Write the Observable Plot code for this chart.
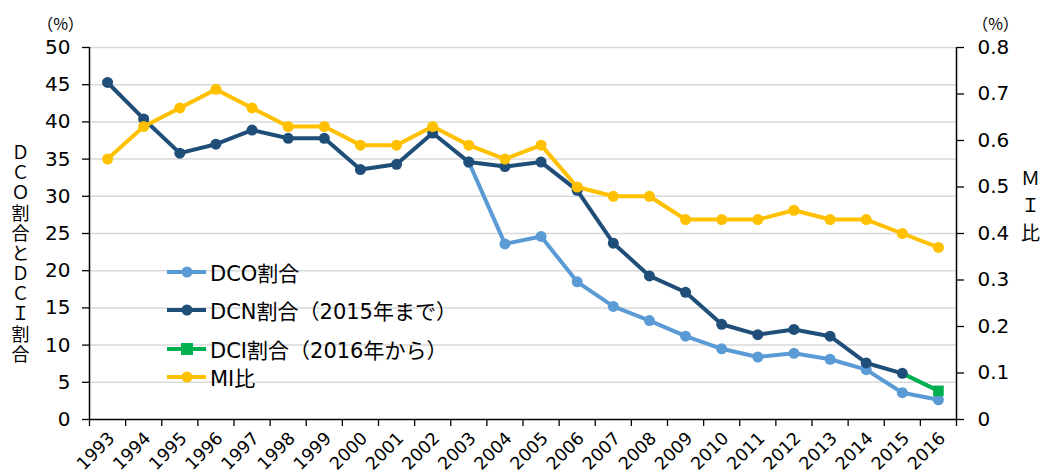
<!DOCTYPE html>
<html>
<head>
<meta charset="utf-8">
<script src="https://cdn.jsdelivr.net/npm/d3@7"></script>
<script src="https://cdn.jsdelivr.net/npm/@observablehq/plot@0.6"></script>
<style>
  html, body { margin: 0; padding: 0; background: #fff; }
  #wrap { position: relative; width: 1046px; height: 472px; }
  #legend { position: absolute; left: 166px; top: 258px; font-family: 'DejaVu Sans', 'Noto Sans CJK JP', sans-serif; font-size: 21px; color: #000; }
  #legend .item { position: absolute; left: 0; white-space: nowrap; display: flex; align-items: center; height: 28px; }
  #legend svg { display: block; }
</style>
</head>
<body>
<div id="wrap"><div id="legend"></div></div>
<script>
// ---- data ----
const years = [1993,1994,1995,1996,1997,1998,1999,2000,2001,2002,2003,2004,2005,2006,2007,2008,2009,2010,2011,2012,2013,2014,2015,2016];
// DCN割合 (%) 1993-2015
const dcnYears = years.slice(0, 23);
const dcnValues = [45.3,40.4,35.8,37.0,38.9,37.8,37.8,33.6,34.3,38.5,34.6,34.0,34.6,30.8,23.7,19.3,17.1,12.8,11.4,12.1,11.2,7.6,6.2];
// DCO割合 (%) 2003-2016 (coincides with DCN before)
const dcoYears = years.slice(10);
const dcoValues = [34.6,23.6,24.6,18.5,15.2,13.3,11.2,9.5,8.4,8.9,8.1,6.7,3.6,2.65];
// DCI割合 (%) 2016 (line joined from DCN 2015)
const dciYears = [2015, 2016];
const dciValues = [6.2, 3.85];
// MI比 (right axis)
const miValues = [0.56,0.63,0.67,0.71,0.67,0.63,0.63,0.59,0.59,0.63,0.59,0.56,0.59,0.50,0.48,0.48,0.43,0.43,0.43,0.45,0.43,0.43,0.40,0.37];
// ticks
const leftTicks = [0,5,10,15,20,25,30,35,40,45,50];
const rightTicks = [0,0.1,0.2,0.3,0.4,0.5,0.6,0.7,0.8];
const leftTitle = "ＤＣＯ割合とＤＣＩ割合";
const rightTitle = "ＭＩ比";
const unitLabel = "（%）";
const seriesNames = ["DCO割合", "DCN割合（2015年まで）", "DCI割合（2016年から）", "MI比"];
const colors = ["#5B9BD5", "#1F4E79", "#00B050", "#FFC000"];

// ---- tables ----
const dcn = dcnYears.map((y, i) => ({year: y, v: dcnValues[i]}));
const dco = dcoYears.map((y, i) => ({year: y, v: dcoValues[i]}));
const dci = dciYears.map((y, i) => ({year: y, v: dciValues[i]}));
const mi = years.map((y, i) => ({year: y, v: miValues[i]}));
const k = 50 / 0.8; // right axis -> left axis scale factor
const boundaries = [...years.map(y => y - 0.5), 2016.5];
const fmtR = v => String(Math.round(v * 10) / 10);

const font = "'DejaVu Sans', 'Noto Sans CJK JP', sans-serif";
const cjk = "'Noto Sans CJK JP', sans-serif";

const chart = Plot.plot({
  width: 1046,
  height: 472,
  marginLeft: 89,
  marginRight: 90,
  marginTop: 47,
  marginBottom: 53,
  style: {fontFamily: font, fontSize: "17px", color: "#000", background: "#fff", overflow: "visible"},
  x: {type: "linear", domain: [1992.5, 2016.5]},
  y: {domain: [0, 50]},
  marks: [
    Plot.gridY(leftTicks.filter(d => d > 0), {stroke: "#d9d9d9", strokeOpacity: 1, strokeWidth: 1.5}),
    Plot.axisY(leftTicks, {anchor: "left", tickSize: 7, tickPadding: 12, fontSize: 20, label: null, stroke: "#000", strokeWidth: 1.3}),
    Plot.axisY(rightTicks.map(v => v * k), {anchor: "right", tickSize: 7, tickPadding: 14, fontSize: 20, label: null, tickFormat: d => fmtR(d / k), stroke: "#000", strokeWidth: 1.3}),
    Plot.ruleX([1992.5, 2016.5], {stroke: "#000", strokeWidth: 1.5}),
    Plot.ruleY([0], {stroke: "#000", strokeWidth: 1.5}),
    Plot.axisX(boundaries, {tickSize: 7, tickFormat: () => "", label: null, stroke: "#000", strokeWidth: 1.3}),
    Plot.axisX(years, {tickSize: 0, tickPadding: 16, tickRotate: -45, fontSize: 17.5, tickFormat: d => String(d), label: null, dx: 4}),
    // series
    Plot.line(dco, {x: "year", y: "v", stroke: colors[0], strokeWidth: 4}),
    Plot.dot(dco, {x: "year", y: "v", fill: colors[0], r: 5.5}),
    Plot.line(dci, {x: "year", y: "v", stroke: colors[2], strokeWidth: 4}),
    Plot.dot(dci.slice(1), {x: "year", y: "v", fill: colors[2], symbol: "square", r: 6}),
    Plot.line(dcn, {x: "year", y: "v", stroke: colors[1], strokeWidth: 4}),
    Plot.dot(dcn, {x: "year", y: "v", fill: colors[1], r: 5.5}),
    Plot.line(mi, {x: "year", y: d => d.v * k, stroke: colors[3], strokeWidth: 4}),
    Plot.dot(mi, {x: "year", y: d => d.v * k, fill: colors[3], r: 5.5}),
    // axis titles
    Plot.text([unitLabel], {frameAnchor: "top-left", dx: -29, dy: -29, fontSize: 16, textAnchor: "middle", fontFamily: cjk}),
    Plot.text([unitLabel], {frameAnchor: "top-right", dx: 39, dy: -29, fontSize: 16, textAnchor: "middle", fontFamily: cjk}),
    Plot.text([leftTitle.split("").join("\n")], {frameAnchor: "left", dx: -69, dy: 20, fontSize: 18, lineHeight: 1.12, textAnchor: "middle"}),
    Plot.text([rightTitle.split("").join("\n")], {frameAnchor: "right", dx: 74, dy: -30, fontSize: 19, lineHeight: 1.45, textAnchor: "middle"})
  ]
});
document.getElementById("wrap").prepend(chart);

// ---- legend ----
const legend = d3.select("#legend");
const tops = [0, 38, 77, 105];
seriesNames.forEach((name, i) => {
  const item = legend.append("div").attr("class", "item").style("top", tops[i] + "px");
  const s = item.append("svg").attr("width", 44).attr("height", 28);
  s.append("line").attr("x1", 1).attr("x2", 40).attr("y1", 14).attr("y2", 14).attr("stroke", colors[i]).attr("stroke-width", 4);
  if (i === 2) s.append("rect").attr("x", 15).attr("y", 8).attr("width", 12).attr("height", 12).attr("fill", colors[i]);
  else s.append("circle").attr("cx", 21).attr("cy", 14).attr("r", 5.5).attr("fill", colors[i]);
  item.append("span").text(name);
});
</script>
</body>
</html>
